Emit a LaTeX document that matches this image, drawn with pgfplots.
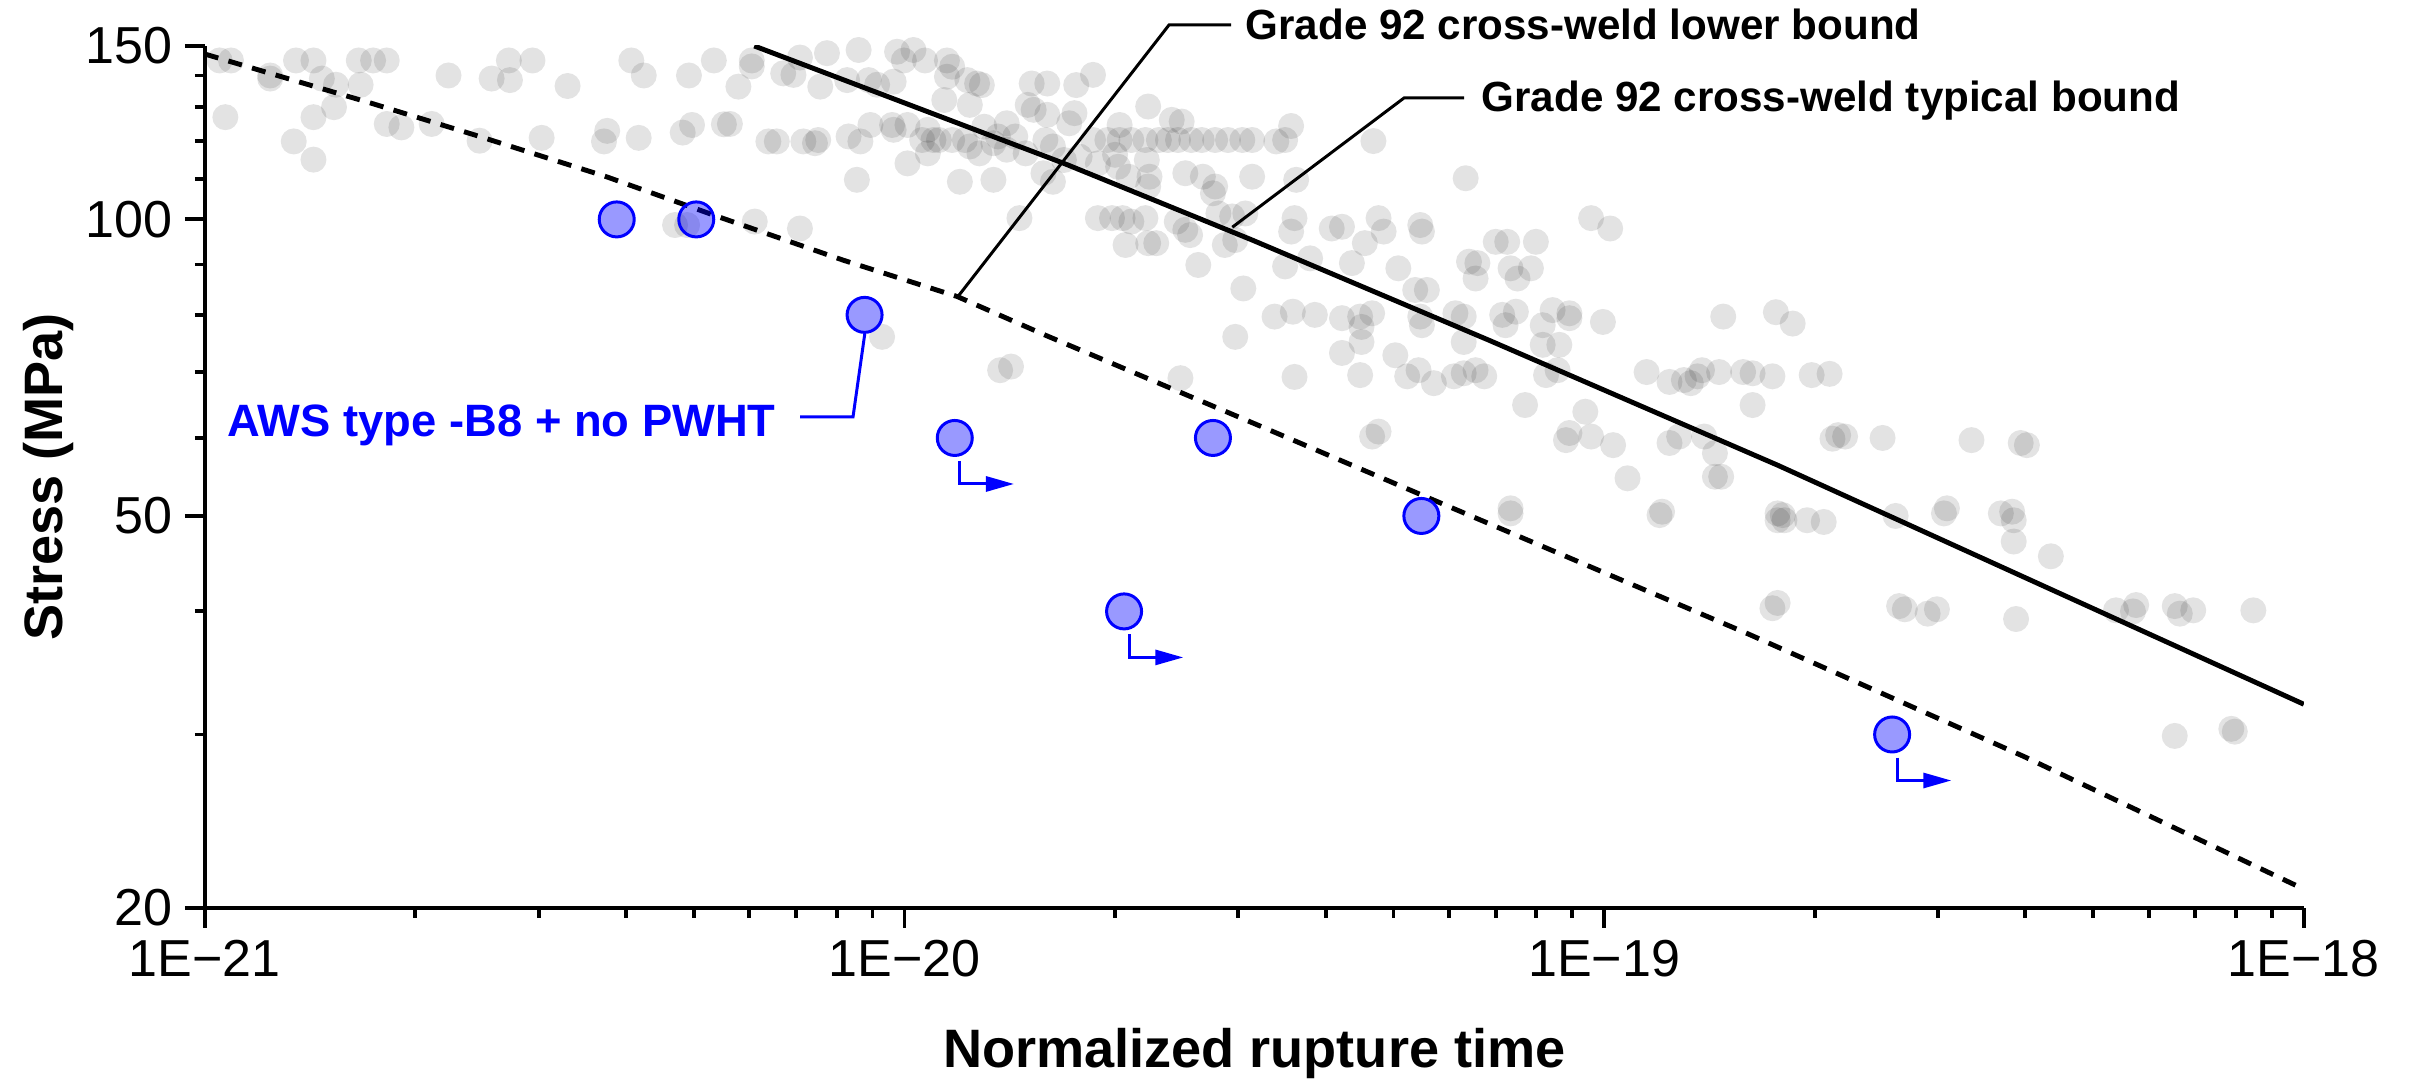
\documentclass[border=0pt]{standalone}
\usepackage{fontspec}
\setmainfont{Liberation Sans}
\usepackage{pgfplots}
\pgfplotsset{compat=1.18}
\usetikzlibrary{arrows.meta}

\begin{document}
\begin{tikzpicture}[x=1cm,y=1cm]
\path[use as bounding box] (0,0) rectangle (24.13,10.8);
\begin{axis}[
  at={(2.05cm,1.72cm)}, anchor=south west,
  scale only axis, width=20.99cm, height=8.62cm,
  xmode=log, ymode=log,
  xmin=1e-21, xmax=1e-18, ymin=20, ymax=150,
  axis x line*=bottom, axis y line*=left,
  axis line style={line width=1.1pt, -},
  every tick/.style={line width=1.1pt, black},
  tick align=outside,
  major tick length=2mm, minor tick length=1mm,
  xtick={1e-21,1e-20,1e-19,1e-18},
  xticklabels={1E−21,1E−20,1E−19,1E−18},
  minor xtick={2e-21,3e-21,4e-21,5e-21,6e-21,7e-21,8e-21,9e-21,2e-20,3e-20,4e-20,5e-20,6e-20,7e-20,8e-20,9e-20,2e-19,3e-19,4e-19,5e-19,6e-19,7e-19,8e-19,9e-19},
  ytick={20,50,100,150}, yticklabels={20,50,100,150},
  minor ytick={30,40,60,70,80,90,110,120,130,140},
  tick label style={font=\fontsize{14.8}{16}\selectfont},
  xlabel={Normalized rupture time}, ylabel={Stress (MPa)},
  label style={font=\bfseries\fontsize{15.4}{17}\selectfont},
  xlabel style={at={(axis description cs:0.5,-0.1856)}, anchor=base},
  ylabel style={at={(axis description cs:-0.0677,0.5)}, anchor=base},
  clip=true,
]
% background data (gray)
\addplot[only marks, mark=*, mark size=1.3mm, draw opacity=0, mark options={draw opacity=0, line width=0pt, fill=black, fill opacity=0.11}] table {
x y
1.05e-21 145
1.09e-21 145
1.24e-21 140
1.24e-21 139
1.35e-21 145
1.43e-21 145
1.47e-21 139
1.54e-21 137
1.66e-21 145
1.74e-21 145
1.82e-21 145
1.92e-21 151
1.67e-21 137
1.53e-21 130
1.43e-21 127
1.07e-21 127
1.34e-21 120
1.43e-21 115
1.82e-21 125
1.91e-21 124
2.11e-21 125
2.23e-21 140
2.57e-21 139
2.72e-21 145
2.73e-21 138.5
2.94e-21 145
3.30e-21 136.6
2.47e-21 120.2
3.03e-21 121
3.76e-21 123
3.72e-21 120
4.17e-21 121
4.07e-21 145
4.24e-21 140
4.40e-21 151
4.78e-21 151
5.05e-21 151
5.34e-21 145
4.92e-21 140
4.97e-21 124.7
4.82e-21 122.5
5.52e-21 124.9
4.70e-21 98.7
4.89e-21 98.7
6.05e-21 145
6.05e-21 143
5.79e-21 136.4
6.71e-21 140.7
6.94e-21 140.2
7.09e-21 146
7.58e-21 136.4
7.75e-21 147.5
8.28e-21 138.5
8.60e-21 148.6
8.89e-21 138.5
9.14e-21 137
9.65e-21 138
9.76e-21 148
9.98e-21 145
1.03e-20 148.6
1.07e-20 145
1.14e-20 132.2
1.15e-20 145
1.17e-20 142.9
1.15e-20 139.6
1.23e-20 138.5
1.27e-20 137.4
1.29e-20 136.9
1.24e-20 130.7
1.52e-20 137.4
1.60e-20 137.4
1.76e-20 136.9
1.86e-20 140.2
1.50e-20 130.7
1.53e-20 129.2
1.60e-20 127.7
1.72e-20 125.2
1.75e-20 128.2
2.03e-20 124.7
2.23e-20 130.2
2.41e-20 126.2
2.49e-20 125.7
6.39e-21 120
6.57e-21 120
7.17e-21 120
7.45e-21 119.5
7.53e-21 120.4
8.32e-21 121.4
8.65e-21 120
8.94e-21 124.7
9.60e-21 124.7
9.65e-21 123.3
1.01e-20 124.7
1.06e-20 120.4
1.08e-20 123.3
1.10e-20 120.4
1.12e-20 120.4
1.17e-20 120.4
1.22e-20 120.4
1.24e-20 118.6
1.34e-20 119.5
1.36e-20 121.4
1.40e-20 125.2
1.44e-20 121.4
1.49e-20 116.7
1.59e-20 120.4
1.63e-20 118.6
1.69e-20 114.9
1.78e-20 115.8
1.86e-20 120.4
1.95e-20 120.4
2.03e-20 120.4
2.11e-20 120.4
2.21e-20 120.4
2.31e-20 120.4
2.38e-20 120.4
2.46e-20 120.4
2.57e-20 120.4
2.66e-20 120.4
2.78e-20 120.4
2.90e-20 120.4
3.04e-20 120.4
3.14e-20 120.4
5.63e-21 125
1.01e-20 114
1.08e-20 116.7
1.20e-20 109.2
1.34e-20 109.7
1.28e-20 116.7
1.30e-20 124.2
1.40e-20 117.7
8.55e-21 109.7
1.58e-20 111.4
1.63e-20 109.2
1.89e-20 114
2.00e-20 116.3
2.02e-20 113.1
2.09e-20 110.5
2.22e-20 114.9
2.23e-20 108
2.24e-20 110.5
2.52e-20 111.4
2.67e-20 110.5
2.76e-20 106.3
2.78e-20 108
2.81e-20 101.4
2.94e-20 100.7
3.07e-20 101.4
3.14e-20 110.5
6.11e-21 99.5
7.09e-21 97.9
1.46e-20 100.3
1.89e-20 100.3
1.98e-20 100.3
2.05e-20 100.3
2.11e-20 99.5
2.21e-20 100.3
2.45e-20 99.5
2.52e-20 97.6
2.56e-20 96.4
2.07e-20 94.2
2.23e-20 94.6
2.29e-20 94.6
2.63e-20 89.9
2.87e-20 94.2
2.97e-20 95.3
3.05e-20 85.1
2.97e-20 76.0
9.29e-21 76
3.40e-20 120
3.50e-20 120.4
3.57e-20 124.4
3.63e-20 109.7
4.68e-20 120.1
6.34e-20 110.1
3.61e-20 100.3
3.57e-20 97.2
4.08e-20 97.9
4.22e-20 98.3
4.76e-20 100.3
4.84e-20 97.2
4.55e-20 94.6
5.46e-20 98.7
5.49e-20 97.2
3.50e-20 89.6
3.80e-20 91.3
4.36e-20 90.3
5.08e-20 89.2
5.37e-20 84.8
5.58e-20 84.8
6.41e-20 90.6
6.59e-20 90.3
6.55e-20 87.1
7.00e-20 94.9
7.27e-20 94.9
7.99e-20 94.9
7.35e-20 89.2
7.86e-20 89.2
7.52e-20 87.1
9.58e-20 100.3
1.02e-19 97.9
3.38e-20 79.7
3.59e-20 80.6
3.86e-20 80
4.22e-20 79.4
4.48e-20 79.7
4.66e-20 80.3
4.50e-20 77.8
5.46e-20 79.7
5.49e-20 78.1
6.13e-20 80.3
6.30e-20 79.7
7.15e-20 80
7.48e-20 80.6
7.23e-20 78.1
8.17e-20 78.1
8.44e-20 80.9
8.92e-20 80.3
8.92e-20 79.4
9.96e-20 78.7
1.48e-19 79.7
1.76e-19 80.5
1.86e-19 78.4
1.37e-20 70.3
1.42e-20 70.9
2.48e-20 69.0
4.22e-20 73.2
4.50e-20 75.1
5.03e-20 72.8
3.61e-20 69.2
4.48e-20 69.5
5.23e-20 69.3
5.43e-20 70.3
5.71e-20 68.2
6.10e-20 69.3
6.30e-20 69.8
6.55e-20 70.3
6.74e-20 69.3
6.30e-20 75.1
8.17e-20 74.6
8.63e-20 74.6
8.26e-20 69.5
8.58e-20 70.3
7.71e-20 64.8
9.40e-20 63.8
8.92e-20 60.7
8.82e-20 59.7
9.58e-20 60.2
1.03e-19 59.0
1.08e-19 54.6
4.66e-20 60.2
4.76e-20 60.9
7.35e-20 50.9
7.35e-20 50.3
1.21e-19 50.5
1.20e-19 50.1
1.15e-19 70.0
1.24e-19 68.4
1.30e-19 68.7
1.33e-19 68.2
1.36e-19 69.3
1.38e-19 70.3
1.46e-19 70.0
1.58e-19 70.0
1.63e-19 69.8
1.74e-19 69.3
1.63e-19 64.8
1.28e-19 60.2
1.24e-19 59.3
1.39e-19 60.2
1.44e-19 57.9
1.44e-19 54.8
1.47e-19 54.8
1.77e-19 50.3
1.77e-19 49.5
1.74e-19 40.3
1.77e-19 40.8
1.98e-19 69.5
2.10e-19 69.7
2.12e-19 59.9
2.16e-19 60.4
2.21e-19 60.2
2.50e-19 60.0
3.35e-19 59.7
3.94e-19 59.3
4.02e-19 59.0
1.80e-19 50.1
1.81e-19 49.5
1.95e-19 49.5
2.06e-19 49.3
2.61e-19 50.0
3.09e-19 50.9
3.06e-19 50.3
3.69e-19 50.3
3.83e-19 50.5
3.85e-19 49.5
3.85e-19 47.1
4.35e-19 45.5
2.64e-19 40.5
2.69e-19 40.2
2.90e-19 39.8
2.99e-19 40.2
3.88e-19 39.3
5.39e-19 40.1
5.76e-19 40.6
5.70e-19 40.0
6.54e-19 40.5
6.65e-19 39.8
6.95e-19 40.1
8.47e-19 40.1
6.54e-19 29.9
7.88e-19 30.4
7.97e-19 30.2
};
% lower bound (dashed)
\addplot[black, line width=1.4pt, dash pattern=on 4pt off 3pt, mark=none] coordinates {
(1e-21,147.2) (1.24e-21,140.7) (1.73e-21,131.2) (2.47e-21,121.4) (3.75e-21,110.5)
(5.34e-21,101.0) (8.18e-21,90.9) (1.19e-20,83.5) (1.59e-20,76.3) (3.24e-20,61.6)
(5.49e-20,52.5) (1.60e-19,38.0) (3.98e-19,28.5) (1e-18,20.9)};
% typical bound (solid)
\addplot[black, line width=1.4pt, mark=none] coordinates {
(6.1e-21,150) (1.69e-20,114.0) (3.14e-20,95.3) (6.85e-20,75.4) (1.77e-19,56.3) (1e-18,32.2)};
% AWS type -B8 + no PWHT
\addplot[only marks, mark=*, mark size=1.75mm, mark options={draw=blue, line width=0.85pt, fill=blue, fill opacity=0.4}] coordinates {
(3.88e-21,100) (5.04e-21,100) (8.77e-21,80) (1.18e-20,60) (2.76e-20,60) (2.06e-20,40) (5.48e-20,50) (2.58e-19,30)};
\coordinate (lbtip) at (axis cs:1.19e-20,83.4);
\coordinate (tptip) at (axis cs:2.94e-20,98.2);
\coordinate (b3) at (axis cs:8.77e-21,80);
\coordinate (b4) at (axis cs:1.18e-20,60);
\coordinate (b6) at (axis cs:2.06e-20,40);
\coordinate (b8) at (axis cs:2.58e-19,30);
\end{axis}
% annotations
\draw[black, line width=0.85pt] (12.31,10.55) -- (11.69,10.55) -- (lbtip);
\node[anchor=base west, inner sep=0pt, font=\bfseries\fontsize{12}{14}\selectfont] at (12.45,10.40) {Grade 92 cross-weld lower bound};
\draw[black, line width=0.85pt] (14.64,9.82) -- (14.04,9.82) -- (tptip);
\node[anchor=base west, inner sep=0pt, font=\bfseries\fontsize{12}{14}\selectfont] at (14.81,9.68) {Grade 92 cross-weld typical bound};
\node[anchor=base west, inner sep=0pt, text=blue, font=\bfseries\fontsize{12.9}{15}\selectfont] at (2.27,6.43) {AWS type -B8 + no PWHT};
\draw[blue, line width=0.85pt] (8.00,6.63) -- (8.53,6.63) -- ([yshift=-1.9mm]b3);
\foreach \p in {b4,b6,b8}{
  \draw[blue, line width=0.85pt, -{Triangle[length=2.8mm,width=1.5mm]}] ([xshift=0.5mm,yshift=-2.3mm]\p) -- ++(0,-2.3mm) -- ++(5.4mm,0);
}
\end{tikzpicture}
\end{document}
